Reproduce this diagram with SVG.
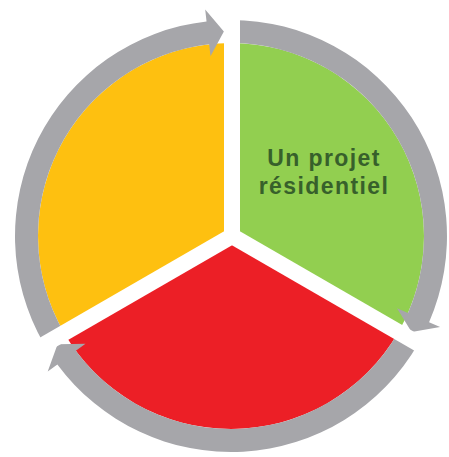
<svg xmlns="http://www.w3.org/2000/svg" width="449" height="457" viewBox="0 0 449 457">
  <style>
    .arrow { fill: #A6A6AA; }
    .gap { stroke: #FFFFFF; stroke-width: 16; fill: none; }
    .label { font-family: "Liberation Sans", Arial, sans-serif; font-weight: bold; font-size: 23px; letter-spacing: 1.4px; fill: #37602B; text-anchor: middle; }
  </style>
  <rect width="449" height="457" fill="#FFFFFF"/>
  <g id="yellow-segment">
    <path d="M 231 236 L 231 43 A 193 193 0 0 0 63.86 332.5 Z" fill="#FEC010"/>
  </g>
  <g id="green-segment">
    <path d="M 231 236 L 231 43 A 193 193 0 0 1 398.14 332.5 Z" fill="#92CF50"/>
    <text class="label" x="324" y="166">Un projet</text>
    <text class="label" x="324" y="194">résidentiel</text>
  </g>
  <g id="red-segment">
    <path d="M 231 236 L 398.14 332.5 A 193 193 0 0 1 63.86 332.5 Z" fill="#EC1F26"/>
  </g>
  <g id="connectors">
    <path class="arrow" d="M 43.94 344 A 216 216 0 0 1 206.55 21.39 L 205.19 9.47 L 223.86 31.62 L 210.51 56.16 L 209.15 44.24 A 193 193 0 0 0 63.86 332.5 Z"/>
    <path class="arrow" d="M 231 20 A 216 216 0 0 1 429.08 322.13 L 440.09 326.92 L 411.56 332.01 L 396.99 308.17 L 407.99 312.96 A 193 193 0 0 0 231 43 Z"/>
    <path class="arrow" d="M 418.06 344 A 216 216 0 0 1 57.37 364.48 L 47.72 371.62 L 57.57 344.37 L 85.5 343.66 L 75.86 350.8 A 193 193 0 0 0 398.14 332.5 Z"/>
  </g>
  <g id="gaps">
    <line class="gap" x1="232" y1="236" x2="232" y2="0"/>
    <line class="gap" x1="232" y1="236" x2="24.2" y2="356"/>
    <line class="gap" x1="232" y1="236" x2="439.8" y2="356"/>
    <polygon points="224,231.38 240,231.38 232,245.24" fill="#FFFFFF"/>
  </g>
</svg>
